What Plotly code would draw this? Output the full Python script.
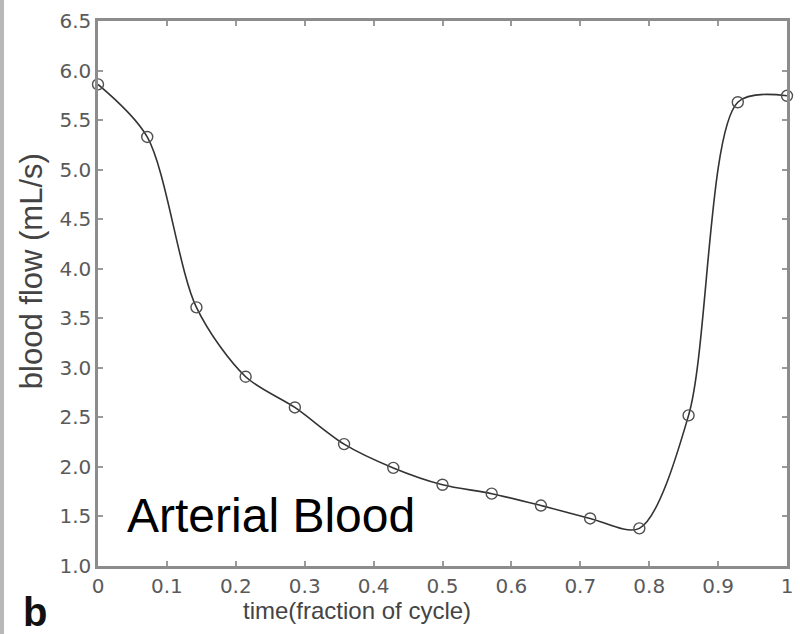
import plotly.graph_objects as go

# Data
time_frac = [0, 1/14, 2/14, 3/14, 4/14, 5/14, 6/14, 7/14, 8/14, 9/14, 10/14, 11/14, 12/14, 13/14, 1.0]
blood_flow = [5.86, 5.33, 3.61, 2.91, 2.60, 2.23, 1.99, 1.82, 1.73, 1.61, 1.48, 1.38, 2.52, 5.68, 5.745]

x_ticks = [0, 0.1, 0.2, 0.3, 0.4, 0.5, 0.6, 0.7, 0.8, 0.9, 1]
x_tick_labels = ["0", "0.1", "0.2", "0.3", "0.4", "0.5", "0.6", "0.7", "0.8", "0.9", "1"]
y_ticks = [1.0, 1.5, 2.0, 2.5, 3.0, 3.5, 4.0, 4.5, 5.0, 5.5, 6.0, 6.5]
y_tick_labels = [f"{v:.1f}" for v in y_ticks]

fig = go.Figure()
fig.add_trace(go.Scatter(
    x=time_frac, y=blood_flow, mode="lines",
    line=dict(color="#333333", width=1.6, shape="spline", smoothing=0.85),
    hoverinfo="skip", showlegend=False,
))
fig.add_trace(go.Scatter(
    x=time_frac, y=blood_flow, mode="markers",
    marker=dict(symbol="circle-open", size=11, color="#505050", line=dict(width=1.4, color="#505050")),
    showlegend=False, cliponaxis=False,
))

axis_common = dict(
    showgrid=False, zeroline=False, showline=True, linecolor="#8c8c8c", linewidth=2.5,
    mirror="ticks", ticks="inside", ticklen=5, tickwidth=1.5, tickcolor="#9a9a9a",
    tickfont=dict(family="DejaVu Sans, Arial, sans-serif", size=20, color="#5a5a5a"),
)

fig.update_xaxes(range=[0, 1], tickvals=x_ticks, ticktext=x_tick_labels, **axis_common)
fig.update_yaxes(range=[1, 6.5], tickvals=y_ticks, ticktext=y_tick_labels, **axis_common)

# axis titles (placed as in the reference, which is not centred on the plot area)
fig.add_annotation(
    x=0.3755, y=-0.082, xref="paper", yref="paper", xanchor="center", yanchor="middle",
    text="time(fraction of cycle)", showarrow=False,
    font=dict(family="Liberation Sans, Arial, sans-serif", size=24, color="#444444"),
)
fig.add_annotation(
    x=0, y=0.541, xref="paper", yref="paper", xanchor="center", yanchor="middle",
    xshift=-67, text="blood flow (mL/s)", textangle=-90, showarrow=False,
    font=dict(family="Liberation Sans, Arial, sans-serif", size=31, color="#444444"),
)

fig.add_annotation(
    x=0, y=0, xref="paper", yref="paper", xanchor="left", yanchor="bottom",
    xshift=27, yshift=22, text="Arterial Blood", showarrow=False,
    font=dict(family="Liberation Sans, Arial, sans-serif", size=48, color="#000000"),
)
fig.add_annotation(
    x=0, y=0, xref="paper", yref="paper", xanchor="left", yanchor="top",
    xshift=-77, yshift=-22, text="<b>b</b>", showarrow=False,
    font=dict(family="Liberation Sans, Arial, sans-serif", size=40, color="#111111"),
)

# thin gray strip at the very left edge of the figure
fig.add_shape(type="rect", xref="paper", yref="paper", xsizemode="pixel", ysizemode="scaled",
              xanchor=0, x0=-98, x1=-94, y0=-0.13, y1=1.04, line=dict(width=0),
              fillcolor="#b8b8b8", layer="below")

fig.update_layout(
    width=800, height=634,
    margin=dict(l=98, r=7, t=21, b=68),
    paper_bgcolor="white", plot_bgcolor="white",
    showlegend=False,
)

fig.write_html("out.html")
